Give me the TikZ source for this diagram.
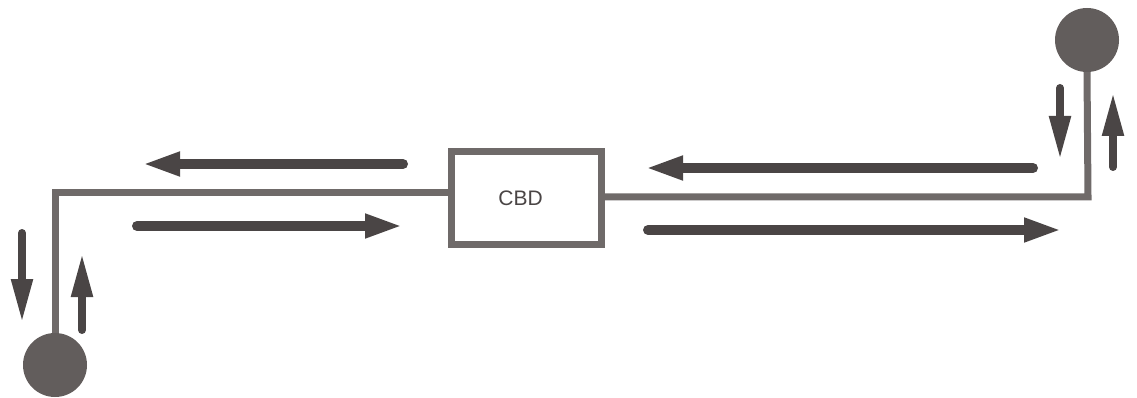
\documentclass[tikz,border=0pt]{standalone}
\usepackage{fontspec}
\setmainfont{Liberation Sans}
\usetikzlibrary{arrows.meta}
\definecolor{ink}{HTML}{4A4545}
\definecolor{road}{HTML}{6F6A69}
\definecolor{stop}{HTML}{625D5C}
\tikzset{
  road/.style={draw=road, line width=7pt, line join=miter},
  flow/.style={draw=ink, line width=10pt, line cap=round,
    -{Triangle[length=38pt,width=22pt]}},
  vflow/.style={draw=ink, line width=8pt, line cap=round,
    -{Triangle[length=44pt,width=20pt]}},
  town/.style={circle, fill=stop, minimum size=64pt, inner sep=0pt},
  centre/.style={draw=road, line width=7pt, fill=white, minimum width=150pt,
    minimum height=93pt, inner sep=0pt, font=\fontsize{21}{24}\selectfont, text=ink},
}
\begin{document}
\begin{tikzpicture}[x=1pt, y=-1pt]
  \useasboundingbox (0,0) rectangle (1137,398);
  % business district and the two outlying stations
  \node[centre] (cbd) at (526.5,198) {\hspace*{-12pt}CBD};
  \node[town] (west) at (55,365) {};
  \node[town] (east) at (1087,40) {};
  % corners of the road
  \coordinate (wc) at (55,193);
  \coordinate (ec) at (1088,197);
  % the road
  \draw[road] (west.north) -- (wc) -- (wc -| cbd.west);
  \draw[road] (ec -| cbd.east) -- (ec) -- (east.south);
  % traffic on the west side
  \coordinate (w1a) at (403,164); \coordinate (w1b) at (142,164);
  \coordinate (w2a) at (137,226); \coordinate (w2b) at (403,226);
  \coordinate (w3a) at (22,233);  \coordinate (w3b) at (22,323);
  \coordinate (w4a) at (82,330);  \coordinate (w4b) at (82,253);
  \draw[flow] (w1a) -- (w1b);
  \draw[flow] (w2a) -- (w2b);
  \draw[vflow] (w3a) -- (w3b);
  \draw[vflow] (w4a) -- (w4b);
  % traffic on the east side
  \coordinate (e1a) at (1033,168); \coordinate (e1b) at (645,168);
  \coordinate (e2a) at (648,230);  \coordinate (e2b) at (1062,230);
  \coordinate (e3a) at (1060,88);  \coordinate (e3b) at (1060,160);
  \coordinate (e4a) at (1113,167); \coordinate (e4b) at (1113,92);
  \draw[flow] (e1a) -- (e1b);
  \draw[flow] (e2a) -- (e2b);
  \draw[vflow] (e3a) -- (e3b);
  \draw[vflow] (e4a) -- (e4b);
\end{tikzpicture}
\end{document}
